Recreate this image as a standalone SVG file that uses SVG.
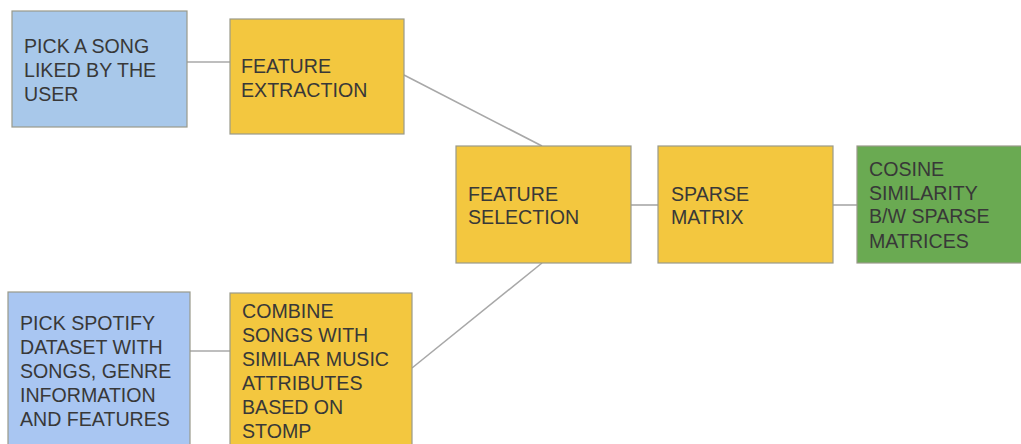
<svg xmlns="http://www.w3.org/2000/svg" width="1021" height="444" viewBox="0 0 1021 444">
<style>
.box{stroke:#9a9a8a;stroke-width:1.2}
.blue1{fill:#a8c8ea}
.blue2{fill:#a9c6f2}
.yellow{fill:#f3c73f}
.green{fill:#6aaa52}
.lbl{font-family:"Liberation Sans",Arial,sans-serif;font-size:19.6px;fill:#383838}
.conn{stroke:#a8a8a8;stroke-width:1.6;fill:none}
</style>
<rect width="1021" height="444" fill="#ffffff"/>
<g id="connectors">
<line class="conn" x1="187" y1="62" x2="230" y2="62"/>
<line class="conn" x1="404" y1="75" x2="542" y2="146"/>
<line class="conn" x1="542" y1="263" x2="412" y2="368"/>
<line class="conn" x1="190" y1="351" x2="230" y2="351"/>
<line class="conn" x1="631" y1="205" x2="658" y2="205"/>
<line class="conn" x1="833" y1="205" x2="857" y2="205"/>
</g>
<g id="pick-song">
<rect class="box blue1" x="12" y="11" width="175" height="116"/>
<text class="lbl" x="24" y="53">PICK A SONG</text>
<text class="lbl" x="24" y="77">LIKED BY THE</text>
<text class="lbl" x="24" y="101">USER</text>
</g>
<g id="feature-extraction">
<rect class="box yellow" x="230" y="19" width="174" height="115"/>
<text class="lbl" x="241" y="73">FEATURE</text>
<text class="lbl" x="241" y="97">EXTRACTION</text>
</g>
<g id="feature-selection">
<rect class="box yellow" x="456" y="146" width="175" height="117"/>
<text class="lbl" x="468" y="201">FEATURE</text>
<text class="lbl" x="468" y="224">SELECTION</text>
</g>
<g id="sparse-matrix">
<rect class="box yellow" x="658" y="146" width="175" height="117"/>
<text class="lbl" x="671" y="201">SPARSE</text>
<text class="lbl" x="671" y="224">MATRIX</text>
</g>
<g id="cosine-similarity">
<rect class="box green" x="857" y="146" width="175" height="117"/>
<text class="lbl" x="869" y="176">COSINE</text>
<text class="lbl" x="869" y="200">SIMILARITY</text>
<text class="lbl" x="869" y="223">B/W SPARSE</text>
<text class="lbl" x="869" y="248">MATRICES</text>
</g>
<g id="pick-spotify">
<rect class="box blue2" x="8" y="292" width="182" height="170"/>
<text class="lbl" x="20" y="330">PICK SPOTIFY</text>
<text class="lbl" x="20" y="354">DATASET WITH</text>
<text class="lbl" x="20" y="378">SONGS, GENRE</text>
<text class="lbl" x="20" y="402">INFORMATION</text>
<text class="lbl" x="20" y="426">AND FEATURES</text>
</g>
<g id="combine-songs">
<rect class="box yellow" x="230" y="293" width="182" height="170"/>
<text class="lbl" x="242" y="318">COMBINE</text>
<text class="lbl" x="242" y="342">SONGS WITH</text>
<text class="lbl" x="242" y="366">SIMILAR MUSIC</text>
<text class="lbl" x="242" y="390">ATTRIBUTES</text>
<text class="lbl" x="242" y="414">BASED ON</text>
<text class="lbl" x="242" y="438">STOMP</text>
</g>
</svg>
